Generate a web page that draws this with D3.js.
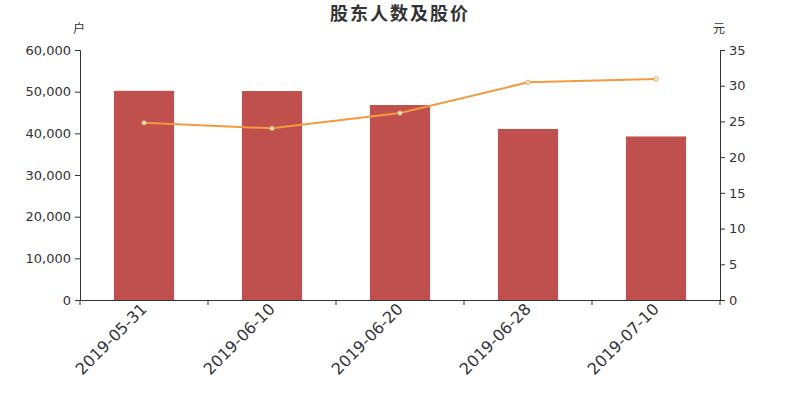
<!DOCTYPE html>
<html><head><meta charset="utf-8">
<script src="https://cdn.jsdelivr.net/npm/d3@7"></script>
<style>body{margin:0;background:#fff}svg{display:block}</style>
</head><body>
<svg id="c" width="800" height="400"></svg>
<script>
const categories = ["2019-05-31","2019-06-10","2019-06-20","2019-06-28","2019-07-10"];
const holders = [50200, 50150, 46800, 41050, 39250];
const prices = [24.8, 24.03, 26.18, 30.47, 30.94];
const leftTicks = [0,10000,20000,30000,40000,50000,60000];
const rightTicks = [0,5,10,15,20,25,30,35];

const svg = d3.select("#c");
const m = {l:80, r:720, t:50, b:300};
const font = "'DejaVu Sans', sans-serif";

const x = d3.scaleBand().domain(categories).range([m.l, m.r]).paddingInner(0.53).paddingOuter(0.265);
const xb = d3.scaleBand().domain(categories).range([m.l, m.r]);
const yL = d3.scaleLinear().domain([0,60000]).range([m.b, m.t]);
const yR = d3.scaleLinear().domain([0,35]).range([m.b, m.t]);

svg.append("text").attr("x",400).attr("y",20).attr("text-anchor","middle")
  .attr("font-family","'Noto Sans CJK SC', sans-serif").attr("font-size",18).attr("font-weight","bold")
  .attr("fill","#333").attr("letter-spacing",2).text("股东人数及股价");
svg.append("text").attr("x",79).attr("y",33).attr("text-anchor","middle")
  .attr("font-family","'Noto Sans CJK SC', sans-serif").attr("font-size",12).attr("fill","#333").text("户");
svg.append("text").attr("x",719).attr("y",33).attr("text-anchor","middle")
  .attr("font-family","'Noto Sans CJK SC', sans-serif").attr("font-size",12).attr("fill","#333").text("元");

// bars
svg.append("g").selectAll("rect").data(categories).join("rect")
  .attr("x", d=>x(d)).attr("width", x.bandwidth())
  .attr("y", (d,i)=>yL(holders[i])).attr("height",(d,i)=>m.b - yL(holders[i]))
  .attr("fill","#c0504d");

// axes
function styleAxis(g, fs){
  g.selectAll("path,line").attr("stroke","#333");
  g.selectAll("text").attr("fill","#333").attr("font-family",font).attr("font-size",fs);
}
const gl = svg.append("g").attr("transform",`translate(${m.l},0)`)
  .call(d3.axisLeft(yL).tickValues(leftTicks).tickFormat(d3.format(",")).tickSizeOuter(0).tickSize(5).tickPadding(4));
styleAxis(gl, 13);
const gr = svg.append("g").attr("transform",`translate(${m.r},0)`)
  .call(d3.axisRight(yR).tickValues(rightTicks).tickSizeOuter(0).tickSize(5).tickPadding(4));
styleAxis(gr, 13);
const gx = svg.append("g").attr("transform",`translate(0,${m.b})`)
  .call(d3.axisBottom(xb).tickSize(0).tickSizeOuter(0).tickPadding(0));
gx.selectAll(".tick line").remove();
styleAxis(gx, 16);
gx.selectAll("text").attr("text-anchor","end").attr("dy",0)
  .attr("transform","translate(4,10) rotate(-45)");
// boundary ticks
const bounds = categories.map(d=>xb(d)).concat([m.r]);
svg.append("g").selectAll("line").data(bounds).join("line")
  .attr("x1",d=>d).attr("x2",d=>d).attr("y1",m.b).attr("y2",m.b+5).attr("stroke","#333");

// line
const line = d3.line().x((d,i)=>xb(categories[i])+xb.bandwidth()/2).y(d=>yR(d));
svg.append("path").datum(prices).attr("d",line).attr("fill","none")
  .attr("stroke","#f39a3f").attr("stroke-width",2);
svg.append("g").selectAll("circle").data(prices).join("circle")
  .attr("cx",(d,i)=>xb(categories[i])+xb.bandwidth()/2).attr("cy",d=>yR(d)).attr("r",2.2)
  .attr("fill","#fff").attr("stroke","#f39a3f").attr("stroke-width",1);
</script>
</body></html>
